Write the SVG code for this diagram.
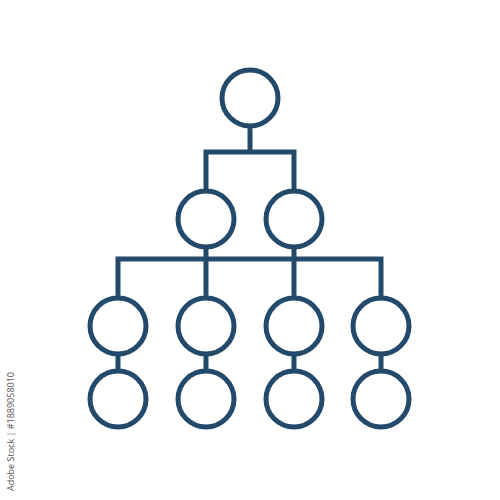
<svg xmlns="http://www.w3.org/2000/svg" width="500" height="500" viewBox="0 0 500 500">
<style>
.n{fill:#ffffff;stroke:#234a6b;stroke-width:5}
.c{fill:none;stroke:#234a6b;stroke-width:5;stroke-linejoin:miter;stroke-linecap:butt}
.wm{font-family:"Open Sans","Liberation Sans",sans-serif;font-size:9px;fill:#555555}
</style>
<rect width="500" height="500" fill="#ffffff"/>
<g id="connectors">
<path class="c" d="M250 126V152M206 191V152H294V191"/>
<path class="c" d="M206 247V298M294 247V298M118 298V259H381V298"/>
<path class="c" d="M118 354V371M206 354V371M294 354V371M381 354V371"/>
</g>
<g id="n0"><circle class="n" cx="250" cy="98" r="28"/></g>
<g id="n1"><circle class="n" cx="206" cy="219" r="28"/></g>
<g id="n2"><circle class="n" cx="294" cy="219" r="28"/></g>
<g id="n3"><circle class="n" cx="118" cy="326" r="28"/></g>
<g id="n4"><circle class="n" cx="206" cy="326" r="28"/></g>
<g id="n5"><circle class="n" cx="294" cy="326" r="28"/></g>
<g id="n6"><circle class="n" cx="381" cy="326" r="28"/></g>
<g id="n7"><circle class="n" cx="118" cy="399" r="28"/></g>
<g id="n8"><circle class="n" cx="206" cy="399" r="28"/></g>
<g id="n9"><circle class="n" cx="294" cy="399" r="28"/></g>
<g id="n10"><circle class="n" cx="381" cy="399" r="28"/></g>
<text class="wm" transform="translate(14,491) rotate(-90)">Adobe Stock | #1889058010</text>
</svg>
